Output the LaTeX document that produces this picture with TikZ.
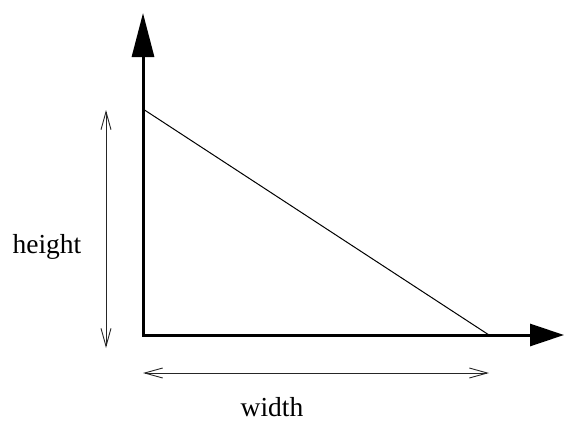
\documentclass[tikz,border=0pt]{standalone}
\usepackage{fontspec}
\setmainfont{Liberation Serif}
\usetikzlibrary{arrows.meta}
\begin{document}
\begin{tikzpicture}[x=1pt,y=-1pt,
  axis/.style={line width=3pt,{Triangle[length=44pt,width=22pt]}-{Triangle[length=34pt,width=22pt]}},
  dim/.style={line width=0.9pt,draw=black!85,{Straight Barb[length=18pt,width=10pt,line width=0.9pt]}-{Straight Barb[length=18pt,width=10pt,line width=0.9pt]}},
  lbl/.style={font=\fontsize{27.5}{30}\selectfont,anchor=base,inner sep=0pt}]
\useasboundingbox (0,0) rectangle (565,423);
\coordinate (O) at (143,335);
\coordinate (T) at (143,13);
\coordinate (R) at (564,335);
\coordinate (A) at (143,109);
\coordinate (B) at (489,335);
\coordinate (H1) at (106,110);
\coordinate (H2) at (106,348);
\coordinate (W1) at (143,373);
\coordinate (W2) at (489,373);
\draw[axis] (T) -- (O) -- (R);
\draw[line width=1pt] (A) -- (B);
\draw[dim] (H1) -- (H2);
\draw[dim] (W1) -- (W2);
\node[lbl] (hl) at (47,253) {height};
\node[lbl] (wl) at (272,416) {width};
\end{tikzpicture}
\end{document}
